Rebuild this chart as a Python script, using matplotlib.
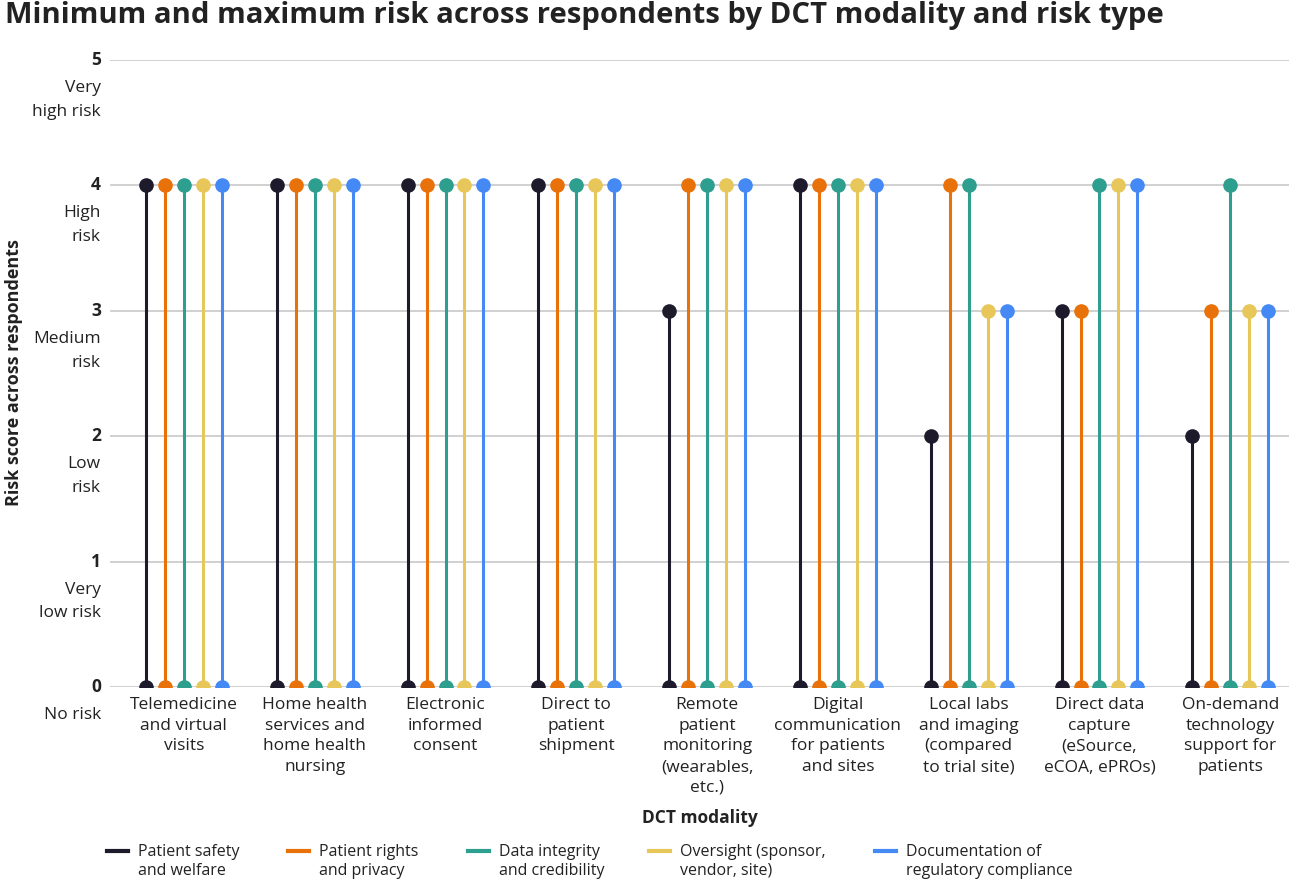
import matplotlib.pyplot as plt
from matplotlib.lines import Line2D
import matplotlib.transforms as mtransforms

plt.rcParams['font.family'] = ['Open Sans', 'DejaVu Sans']

# modalitaty DCT (kategorie na osi x)
modalities = [
    'Telemedicine\nand virtual\nvisits',
    'Home health\nservices and\nhome health\nnursing',
    'Electronic\ninformed\nconsent',
    'Direct to\npatient\nshipment',
    'Remote\npatient\nmonitoring\n(wearables,\netc.)',
    'Digital\ncommunication\nfor patients\nand sites',
    'Local labs\nand imaging\n(compared\nto trial site)',
    'Direct data\ncapture\n(eSource,\neCOA, ePROs)',
    'On-demand\ntechnology\nsupport for\npatients',
]
risk_types = [
    'Patient safety\nand welfare',
    'Patient rights\nand privacy',
    'Data integrity\nand credibility',
    'Oversight (sponsor,\nvendor, site)',
    'Documentation of\nregulatory compliance',
]
colors = ['#1c1a2b', '#e8710a', '#2e9e8e', '#e8c75a', '#4589f5']

# maksymalne ryzyko: jedna lista na typ ryzyka
max_safety = [4, 4, 4, 4, 3, 4, 2, 3, 2]
max_rights = [4, 4, 4, 4, 4, 4, 4, 3, 3]
max_integrity = [4, 4, 4, 4, 4, 4, 4, 4, 4]
max_oversight = [4, 4, 4, 4, 4, 4, 3, 4, 3]
max_docs = [4, 4, 4, 4, 4, 4, 3, 4, 3]
# minimalne ryzyko - wszędzie 0
min_all = [0, 0, 0, 0, 0, 0, 0, 0, 0]

max_values = [max_safety, max_rights, max_integrity, max_oversight, max_docs]

y_ticks = [0, 1, 2, 3, 4, 5]
y_desc = ['No risk', 'Very\nlow risk', 'Low\nrisk', 'Medium\nrisk', 'High\nrisk', 'Very\nhigh risk']

fig = plt.figure(figsize=(12.93, 8.81), dpi=100)
ax = fig.add_axes([0.085, 0.2202, 0.912, 0.7117])

step = 0.145
for k, (vals, col) in enumerate(zip(max_values, colors)):
    off = (k - 2) * step
    for i in range(len(modalities)):
        x = i + off
        ax.plot([x, x], [min_all[i], vals[i]], color=col, linewidth=2.2,
                marker='o', markersize=9.5, solid_capstyle='butt', zorder=3)

ax.set_xlim(-0.566, 8.45)
ax.set_ylim(0, 5)
ax.set_yticks(y_ticks)
ax.set_yticklabels([])
ax.grid(axis='y', color='#c4c4c4', linewidth=1.1, zorder=0)
ax.tick_params(axis='y', length=0)
ax.set_xticks(range(len(modalities)))
ax.set_xticklabels(modalities, fontsize=12.5, color='#222222', linespacing=1.4)
ax.tick_params(axis='x', length=0, pad=7)
for s in ax.spines.values():
    s.set_visible(False)
ax.set_axisbelow(True)

# etykiety osi y: liczba pogrubiona + opis
trans = mtransforms.blended_transform_factory(fig.transFigure, ax.transData)
for t, d in zip(y_ticks, y_desc):
    ax.text(0.078, t, str(t), transform=trans, ha='right', va='center',
            fontsize=12.5, fontweight='bold', color='#222222')
    ax.text(0.078, t - 0.16, d, transform=trans, ha='right', va='top',
            fontsize=12.5, color='#222222', linespacing=1.65)

fig.text(0.011, 0.5769, 'Risk score across respondents', rotation=90,
         ha='center', va='center', fontsize=13, fontweight='bold', color='#222222')
fig.text(0.541, 0.0715, 'DCT modality', ha='center', va='center',
         fontsize=12.5, fontweight='bold', color='#222222')
fig.text(0.004, 0.982, 'Minimum and maximum risk across respondents by DCT modality and risk type',
         ha='left', va='center', fontsize=21.1, fontweight='bold', color='#222222')

leg_x = [0.083, 0.223, 0.362, 0.502, 0.677]
for h, lab, lx in zip(colors, risk_types, leg_x):
    fig.add_artist(Line2D([lx, lx + 0.016], [0.0335, 0.0335], color=h, linewidth=3,
                          transform=fig.transFigure))
    fig.text(lx + 0.024, 0.0225, lab, ha='left', va='center', fontsize=11.5,
             color='#222222', linespacing=1.25)

fig.savefig('out.png', dpi=100)
